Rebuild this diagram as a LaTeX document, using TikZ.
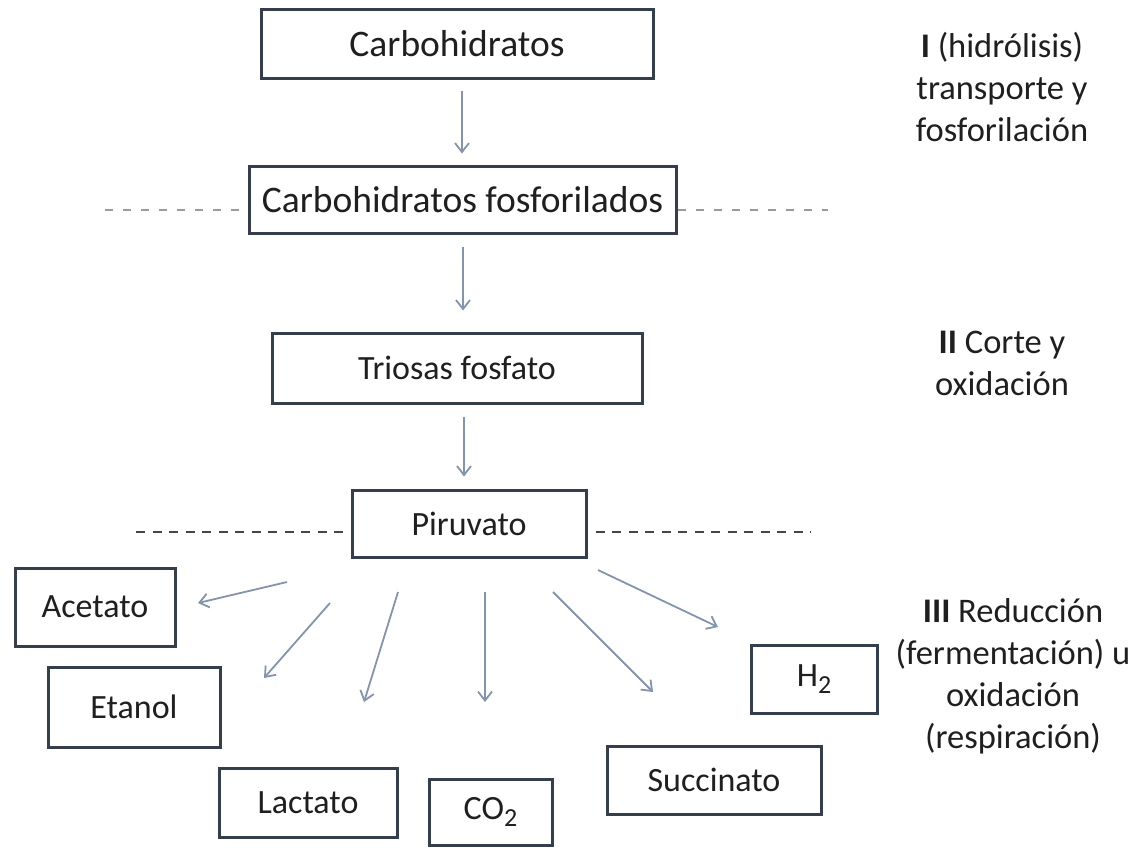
\documentclass[tikz,border=0pt]{standalone}
\usepackage{fontspec}
\setmainfont{Carlito}
\usetikzlibrary{arrows.meta}
\definecolor{boxline}{HTML}{353E4B}
\definecolor{arrowc}{HTML}{8494AC}
\definecolor{txt}{HTML}{1F1F1F}
\definecolor{dashdark}{HTML}{454545}
\definecolor{dashlight}{HTML}{9A9A9A}
\begin{document}
\begin{tikzpicture}[x=1pt,y=-1pt,
  box/.style={draw=boxline, line width=3pt, fill=white, inner sep=0pt, text=txt,
    font=\fontsize{34}{40}\selectfont},
  bigbox/.style={box, font=\fontsize{37.5}{44}\selectfont},
  arr/.style={draw=arrowc, line width=1.8pt,
    -{Straight Barb[length=9pt,width=14pt,line width=1.8pt]}},
  dashdk/.style={draw=dashdark, line width=2.8pt, dash pattern=on 9pt off 7.5pt},
  dashlt/.style={draw=dashlight, line width=1.3pt, dash pattern=on 8pt off 10pt},
  lab/.style={align=center, text=txt, inner sep=0pt, font=\fontsize{34.5}{42}\selectfont}]
\useasboundingbox (0,0) rectangle (1147,847);
\fill[white] (0,0) rectangle (1147,847);

% boxes
\node[bigbox, minimum width=392pt, minimum height=69pt] (carb) at (457,43.5) {Carbohidratos};
\node[bigbox, minimum width=427pt, minimum height=67pt] (fosf) at (462.5,199.5) {Carbohidratos fosforilados};
\node[box, minimum width=370pt, minimum height=70pt] (trio) at (457,368) {Triosas fosfato};
\node[box, minimum width=234pt, minimum height=67pt] (piru) at (469,523.5) {Piruvato};
\node[box, minimum width=160pt, minimum height=78pt] (acet) at (95,607) {Acetato};
\node[box, minimum width=172pt, minimum height=80pt] (etan) at (134,707) {Etanol};
\node[box, minimum width=178pt, minimum height=69pt] (lact) at (308,802.5) {Lactato};
\node[box, minimum width=123pt, minimum height=66pt] (co2) at (490.5,812) {CO{\fontsize{26}{30}\selectfont\raisebox{-7pt}{2}}};
\node[box, minimum width=214pt, minimum height=68pt] (succ) at (714,780) {Succinato};
\node[box, minimum width=126pt, minimum height=68pt] (h2) at (814,679) {H{\fontsize{26}{30}\selectfont\raisebox{-7pt}{2}}};

% dashed separators
\coordinate (ul) at (105,210);
\coordinate (ur) at (828,210);
\draw[dashlt] (ul) -- (ul -| fosf.west);
\draw[dashlt] (fosf.east |- ur) -- (ur);
\coordinate (dl) at (136,532);
\coordinate (dr) at (811,532);
\draw[dashdk] (dl) -- ([xshift=-1.5pt]dl -| piru.west);
\draw[dashdk] ([xshift=8pt]piru.east |- dr) -- (dr);

% main arrows
\draw[arr, shorten <=11pt, shorten >=11pt] (carb.south -| 462,0) -- (fosf.north -| 462,0);
\draw[arr, shorten <=12pt, shorten >=21pt] (fosf.south -| 463,0) -- (trio.north -| 463,0);
\draw[arr, shorten <=12pt, shorten >=12pt] (trio.south -| 464,0) -- (piru.north -| 464,0);

% branch arrows
\coordinate (aS) at (287,582); \coordinate (aE) at (198,603);
\coordinate (eS) at (330,603); \coordinate (eE) at (264,678);
\coordinate (lS) at (398,592); \coordinate (lE) at (364,702);
\coordinate (cS) at (485,592); \coordinate (cE) at (485,702);
\coordinate (sS) at (553,592); \coordinate (sE) at (653,692);
\coordinate (hS) at (598,570); \coordinate (hE) at (718,627);
\draw[arr] (aS) -- (aE);
\draw[arr] (eS) -- (eE);
\draw[arr] (lS) -- (lE);
\draw[arr] (cS) -- (cE);
\draw[arr] (sS) -- (sE);
\draw[arr] (hS) -- (hE);

% stage labels
\node[lab] (l1) at (1002,87) {\textbf{I} (hidrólisis)\\transporte y\\fosforilación};
\node[lab] (l2) at (1002,363) {\textbf{II} Corte y\\oxidación};
\node[lab] (l3) at (1013,676) {\textbf{III} Reducción\\(fermentación) u\\oxidación\\(respiración)};
\end{tikzpicture}
\end{document}
